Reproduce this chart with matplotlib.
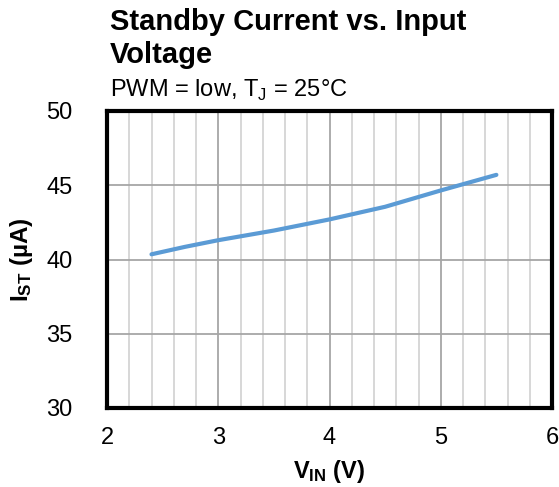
import numpy as np
import matplotlib
matplotlib.use('Agg')
from matplotlib import pyplot as plt
from matplotlib.ticker import MultipleLocator

plt.rcParams['font.family'] = ['Liberation Sans', 'DejaVu Sans']
plt.rcParams['mathtext.fontset'] = 'custom'
plt.rcParams['mathtext.rm'] = 'Liberation Sans'
plt.rcParams['mathtext.bf'] = 'Liberation Sans:bold'

# data
vin = [2.4, 2.7, 3.0, 3.5, 4.0, 4.5, 5.0, 5.5]
ist = [40.35, 40.85, 41.3, 41.95, 42.7, 43.55, 44.65, 45.7]

x_ticks = [2, 3, 4, 5, 6]
y_ticks = [30, 35, 40, 45, 50]

fig = plt.figure(figsize=(5.59, 4.87), dpi=100)
ax = fig.add_axes([107/559, 1 - 408/487, 445/559, 297/487])

ax.plot(vin, ist, color='#5B9BD5', lw=3.0, solid_capstyle='round', zorder=3)

ax.set_xlim(2, 6)
ax.set_ylim(30, 50)
ax.set_xticks(x_ticks)
ax.set_yticks(y_ticks)
ax.xaxis.set_minor_locator(MultipleLocator(0.2))
ax.grid(which='major', color='#a6a6a6', lw=1.3)
ax.grid(which='minor', axis='x', color='#d4d4d4', lw=1.3)
ax.set_axisbelow(True)
ax.tick_params(which='both', length=0, labelsize=17)
ax.tick_params(axis='y', pad=25)
ax.tick_params(axis='x', pad=14)
for s in ax.spines.values():
    s.set_linewidth(3)
    s.set_color('black')

ax.set_xlabel(r'$\mathbf{V_{IN}}$ (V)', fontsize=17, fontweight='bold', labelpad=6)
ax.set_ylabel(r'$\mathbf{I_{ST}}$ (µA)', fontsize=17.5, fontweight='bold', labelpad=8)

fig.text(110/559, 1 - 30/487, 'Standby Current vs. Input', fontsize=21,
         fontweight='bold', va='baseline')
fig.text(110/559, 1 - 63/487, 'Voltage', fontsize=21, fontweight='bold', va='baseline')
fig.text(110/559, 1 - 97/487, r'PWM = low, T$_\mathrm{J}$ = 25°C', fontsize=17,
         va='baseline')

fig.savefig('out.png', dpi=100)
